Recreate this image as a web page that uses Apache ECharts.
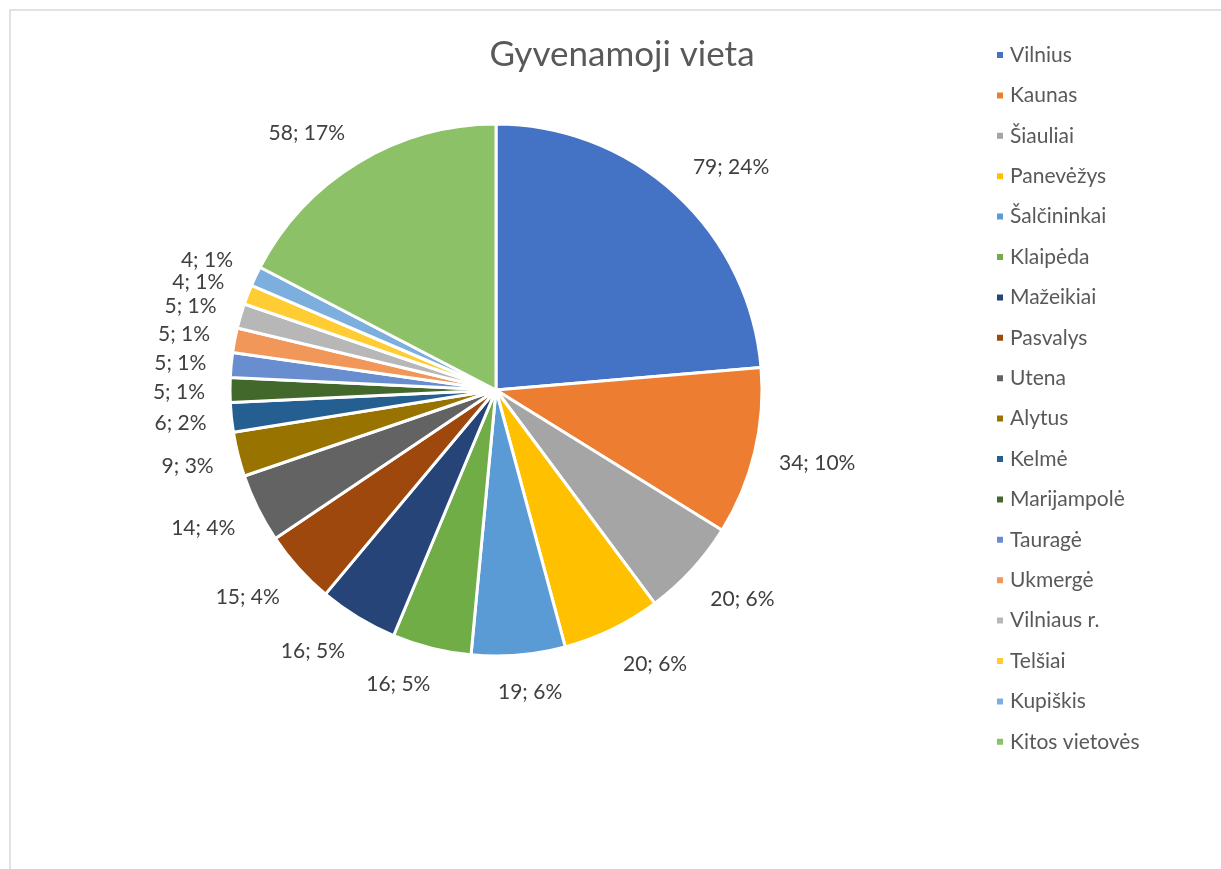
<!DOCTYPE html>
<html>
<head>
<meta charset="utf-8">
<script src="https://cdn.jsdelivr.net/npm/echarts@6/dist/echarts.min.js"></script>
<style>
  html, body { margin: 0; padding: 0; background: #fff; }
</style>
</head>
<body>
<div id="main" style="width: 1221px; height: 869px;"></div>
<script>
// miestai ir jų skaičiai
const cities = ['Vilnius', 'Kaunas', 'Šiauliai', 'Panevėžys', 'Šalčininkai', 'Klaipėda', 'Mažeikiai',
  'Pasvalys', 'Utena', 'Alytus', 'Kelmė', 'Marijampolė', 'Tauragė', 'Ukmergė', 'Vilniaus r.',
  'Telšiai', 'Kupiškis', 'Kitos vietovės'];
const counts = [79, 34, 20, 20, 19, 16, 16, 15, 14, 9, 6, 5, 5, 5, 5, 4, 4, 58];
const colors = ['#4472C4', '#ED7D31', '#A5A5A5', '#FFC000', '#5B9BD5', '#70AD47', '#264478',
  '#9E480E', '#636363', '#997300', '#255E91', '#43682B', '#698ED0', '#F1975A', '#B7B7B7',
  '#FFCD33', '#7CAFDD', '#8CC168'];

const total = counts.reduce((a, b) => a + b, 0);
const fontFam = 'Lato, "Noto Sans", sans-serif';
const cx = 496, cy = 390, r = 266;

// vidurinis sektoriaus kampas (nuo viršaus, pagal laikrodžio rodyklę)
function midAngle(idx) {
  let before = 0;
  for (let i = 0; i < idx; i++) before += counts[i];
  return (before + counts[idx] / 2) / total * Math.PI * 2;
}
const clamp = (v) => Math.max(-1, Math.min(1, v));

var myChart = echarts.init(document.getElementById('main'));
var option = {
  backgroundColor: '#fff',
  color: colors,
  animation: false,
  graphic: [{
    type: 'rect',
    shape: { x: 10, y: 10, width: 1240, height: 880 },
    style: { fill: 'none', stroke: '#d9d9d9', lineWidth: 1.5 },
    silent: true
  }],
  title: {
    text: 'Gyvenamoji vieta',
    left: 617,
    textAlign: 'center',
    top: 32,
    textStyle: { fontFamily: fontFam, fontSize: 35, fontWeight: 'normal', color: '#595959' }
  },
  legend: {
    orient: 'vertical',
    left: 990,
    top: 39,
    icon: 'rect',
    itemWidth: 8,
    itemHeight: 8,
    itemGap: 18.4,
    textStyle: { fontFamily: fontFam, fontSize: 21, color: '#595959', lineHeight: 22, padding: [0, 0, 0, 1] },
    data: cities
  },
  series: [{
    name: 'Gyvenamoji vieta',
    type: 'pie',
    center: [cx, cy],
    radius: r,
    startAngle: 90,
    clockwise: true,
    avoidLabelOverlap: false,
    itemStyle: { borderColor: '#fff', borderWidth: 3 },
    label: {
      position: 'outside',
      fontFamily: fontFam,
      fontSize: 21,
      color: '#404040',
      formatter: function (p) {
        return p.value + '; ' + Math.round(p.value / total * 100) + '%';
      }
    },
    labelLine: { show: false, length: 20, length2: 0 },
    // etiketės dedamos už sektoriaus krašto, kaip Excel'yje
    labelLayout: function (params) {
      const a = midAngle(params.dataIndex);
      const ux = Math.sin(a), uy = -Math.cos(a);
      const w = params.labelRect.width;
      const d = r + 25;
      return {
        x: cx + d * ux + (w / 2) * clamp(ux * 3.5),
        y: cy + d * uy + 2 + 10 * clamp(uy * 1.6),
        align: 'center',
        verticalAlign: 'middle'
      };
    },
    data: cities.map((c, i) => ({ name: c, value: counts[i] }))
  }]
};
myChart.setOption(option);
</script>
</body>
</html>
